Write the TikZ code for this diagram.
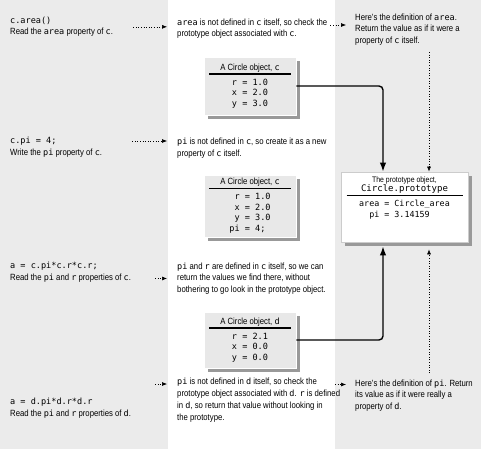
\documentclass[tikz,border=0pt]{standalone}
\usepackage{fontspec}
\setmainfont[FakeStretch=0.86]{Liberation Sans}
\setmonofont[Scale=0.95]{DejaVu Sans Mono}
\usepackage{tikz}
\usetikzlibrary{arrows.meta, shadows}
\tikzset{
  >=Latex,
  panel/.style={fill=black!8},
  txt/.style={anchor=base west, align=left, inner sep=0pt, font=\fontsize{9}{11.7}\selectfont},
  objbox/.style={draw=white, line width=0.8pt, fill=black!9, minimum width=92pt, inner sep=0pt,
    font=\fontsize{9}{10.5}\selectfont,
    drop shadow={shadow xshift=4pt, shadow yshift=-4pt, fill=black!40, opacity=1}},
  protobox/.style={objbox, fill=white, draw=black!20, minimum width=127pt, font=\fontsize{8.8}{10.5}\selectfont},
  dotarrow/.style={dotted, line width=0.6pt, -{Latex[length=5pt,width=4pt]}},
  link/.style={line width=1.4pt, rounded corners=4pt, -{Latex[length=9pt,width=6.5pt]}}
}
\newcommand{\tc}[1]{{\ttfamily #1}}

\begin{document}
\begin{tikzpicture}[x=1pt, y=-1pt]
\useasboundingbox (0,0) rectangle (481,457);

% background panels
\fill[panel] (0,0) rectangle (168,449);
\fill[panel] (335,0) rectangle (481,449);

% -------- Step 1 --------
\node[txt] (code1) at (10,35) {\tc{c.area()}\\Read the \tc{area} property of \tc{c}.};
\node[txt] (note1) at (177,37) {\tc{area} is not defined in \tc{c} itself, so check the\\prototype object associated with \tc{c}.};
\node[txt] (def1) at (355,43.5) {Here’s the definition of \tc{area}.\\Return the value as if it were a\\property of \tc{c} itself.};

\node[objbox, minimum height=58pt] (objc1) at (250,86) {%
  \begin{tabular}{@{}c@{}}
  A Circle object, \tc{c}\\[-6pt]
  \rule{82pt}{1.2pt}\\
  \begin{tabular}{@{}r@{\ttfamily\ =\ }l@{}}
  \tc{r}&\tc{1.0}\\
  \tc{x}&\tc{2.0}\\
  \tc{y}&\tc{3.0}
  \end{tabular}
  \end{tabular}};

% -------- Step 2 --------
\node[txt] (code2) at (10,155) {\tc{c.pi = 4;}\\Write the \tc{pi} property of \tc{c}.};
\node[txt] (note2) at (177,156.5) {\tc{pi} is not defined in \tc{c}, so create it as a new\\property of \tc{c} itself.};

\node[objbox, minimum height=62pt] (objc2) at (250,206) {%
  \begin{tabular}{@{}c@{}}
  A Circle object, \tc{c}\\[-6pt]
  \rule{82pt}{1.2pt}\\
  \begin{tabular}{@{}r@{\ttfamily\ =\ }l@{}}
  \tc{r}&\tc{1.0}\\
  \tc{x}&\tc{2.0}\\
  \tc{y}&\tc{3.0}\\
  \tc{pi}&\tc{4;}
  \end{tabular}
  \end{tabular}};

% -------- Step 3 --------
\node[txt] (code3) at (10,280) {\tc{a = c.pi*c.r*c.r;}\\Read the \tc{pi} and \tc{r} properties of \tc{c}.};
\node[txt] (note3) at (177,292.5) {\tc{pi} and \tc{r} are defined in \tc{c} itself, so we can\\return the values we find there, without\\bothering to go look in the prototype object.};

\node[objbox, minimum height=56pt] (objd) at (250,340) {%
  \begin{tabular}{@{}c@{}}
  A Circle object, \tc{d}\\[-6pt]
  \rule{82pt}{1.2pt}\\
  \begin{tabular}{@{}r@{\ttfamily\ =\ }l@{}}
  \tc{r}&\tc{2.1}\\
  \tc{x}&\tc{0.0}\\
  \tc{y}&\tc{0.0}
  \end{tabular}
  \end{tabular}};

% -------- Step 4 --------
\node[txt] (code4) at (10,416) {\tc{a = d.pi*d.r*d.r}\\Read the \tc{pi} and \tc{r} properties of \tc{d}.};
\node[txt] (note4) at (177,420) {\tc{pi} is not defined in \tc{d} itself, so check the\\prototype object associated with \tc{d}. \tc{r} is defined\\in \tc{d}, so return that value without looking in\\the prototype.};
\node[txt] (def4) at (355,409.5) {Here’s the definition of \tc{pi}. Return\\its value as if it were really a\\property of \tc{d}.};

% Prototype object
\node[protobox, minimum height=70pt] (proto) at (404.5,207) {%
  \begin{tabular}{@{}c@{}}
  {\fontsize{8}{10}\selectfont The prototype object,}\\[-1pt]
  {\fontsize{9.5}{10.5}\selectfont\tc{Circle.prototype}}\\[-6pt]
  \rule{116pt}{1.2pt}\\
  \begin{tabular}{@{}r@{\ttfamily\ =\ }l@{}}
  \tc{area}&\tc{Circle\_area}\\
  \tc{pi}&\tc{3.14159}
  \end{tabular}\\[24pt]
  \end{tabular}};

% Dotted arrows between columns
\draw[dotarrow, shorten <=20pt, shorten >=10pt] (code1.east) -- (code1.east -| note1.west);
\draw[dotarrow, shorten <=30pt, shorten >=10pt] ([yshift=14pt]code2.base east) -- ([yshift=14pt]code2.base east -| note2.west);
\draw[dotarrow, shorten <=24pt, shorten >=10pt] (note3.west -| code3.east) -- (note3.west);
\draw[dotarrow, shorten <=24pt, shorten >=10pt] ([yshift=36pt]note4.base west -| code4.east) -- ([yshift=36pt]note4.base west);
\draw[dotarrow, shorten <=3pt, shorten >=9pt] ([yshift=18.5pt]def1.base west -| note1.east) -- ([yshift=18.5pt]def1.base west);
\draw[dotarrow, shorten >=9pt] ([xshift=-20pt, yshift=25pt]def4.base west) -- ([yshift=25pt]def4.base west);

% Lookups in the prototype
\coordinate (dottop) at (429,52);
\coordinate (dotbot) at (429,373);
\draw[dotarrow] (dottop) -- (dottop |- proto.north);
\draw[dotarrow] (dotbot) -- ([yshift=-7pt]dotbot |- proto.south);

% Links to the prototype
\draw[link] (objc1.east) -| ([xshift=-21.5pt]proto.north);
\draw[link] (objd.east) -| ([xshift=-21.5pt, yshift=-4pt]proto.south);

\end{tikzpicture}
\end{document}
